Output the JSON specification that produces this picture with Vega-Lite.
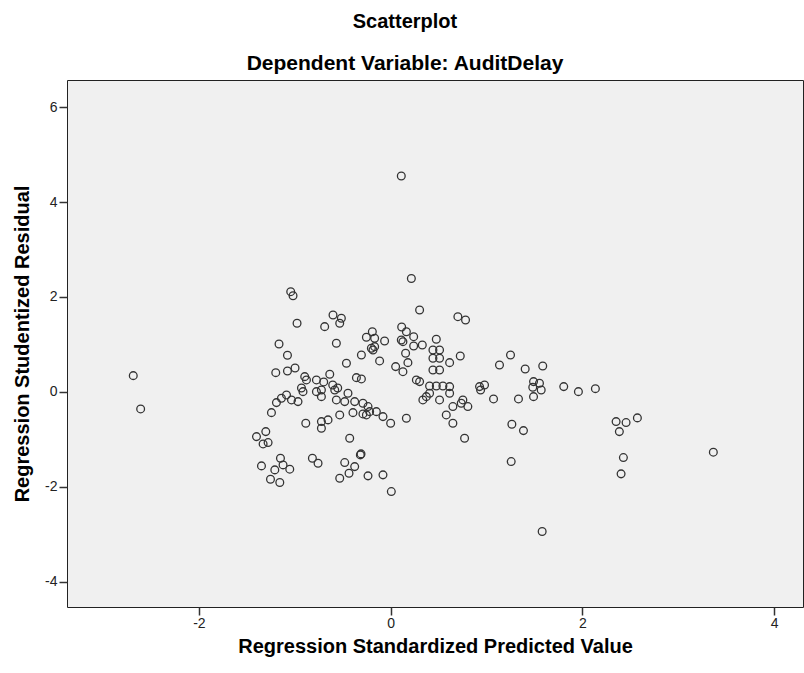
{
 "$schema": "https://vega.github.io/schema/vega-lite/v6.json",
 "width": 736,
 "height": 527,
 "autosize": "none",
 "padding": {"left": 67, "top": 80, "right": 1, "bottom": 66},
 "background": "white",
 "title": {"text": "Scatterplot", "subtitle": "Dependent Variable: AuditDelay", "font": "Liberation Sans", "fontSize": 20, "fontWeight": "bold", "subtitleFont": "Liberation Sans", "subtitleFontSize": 21, "subtitleFontWeight": "bold", "color": "#000", "subtitleColor": "#000", "anchor": "middle", "frame": "group", "dx": -30, "offset": 6, "subtitlePadding": 21},
 "data": {"values": [
  {"pred": -2.684, "resid": 0.343}, {"pred": -2.607, "resid": -0.358}, {"pred": -1.042, "resid": 2.112}, {"pred": -1.018, "resid": 2.027},
  {"pred": -0.976, "resid": 1.446}, {"pred": -1.164, "resid": 1.011}, {"pred": -1.076, "resid": 0.773}, {"pred": -1.198, "resid": 0.406},
  {"pred": -1.076, "resid": 0.442}, {"pred": -0.997, "resid": 0.505}, {"pred": -0.896, "resid": 0.322}, {"pred": -0.878, "resid": 0.253},
  {"pred": -0.774, "resid": 0.253}, {"pred": -0.930, "resid": 0.084}, {"pred": -1.086, "resid": -0.063}, {"pred": -1.139, "resid": -0.133},
  {"pred": -1.191, "resid": -0.225}, {"pred": -1.243, "resid": -0.436}, {"pred": -1.034, "resid": -0.168}, {"pred": -0.966, "resid": -0.204},
  {"pred": -0.914, "resid": 0.006}, {"pred": -0.774, "resid": 0.006}, {"pred": -0.885, "resid": -0.659}, {"pred": -1.399, "resid": -0.941},
  {"pred": -1.302, "resid": -0.836}, {"pred": -1.330, "resid": -1.095}, {"pred": -1.278, "resid": -1.067}, {"pred": -1.347, "resid": -1.558},
  {"pred": -1.149, "resid": -1.396}, {"pred": -1.208, "resid": -1.642}, {"pred": -1.122, "resid": -1.537}, {"pred": -1.052, "resid": -1.627},
  {"pred": -1.253, "resid": -1.838}, {"pred": -1.156, "resid": -1.909}, {"pred": -0.816, "resid": -1.396}, {"pred": -0.757, "resid": -1.501},
  {"pred": -0.601, "resid": 1.621}, {"pred": -0.514, "resid": 1.552}, {"pred": -0.531, "resid": 1.446}, {"pred": -0.688, "resid": 1.375},
  {"pred": -0.566, "resid": 1.025}, {"pred": -0.253, "resid": 1.152}, {"pred": -0.191, "resid": 1.269}, {"pred": -0.167, "resid": 1.131},
  {"pred": -0.063, "resid": 1.074}, {"pred": -0.201, "resid": 0.920}, {"pred": -0.184, "resid": 0.884}, {"pred": -0.167, "resid": 0.954},
  {"pred": -0.305, "resid": 0.779}, {"pred": -0.115, "resid": 0.653}, {"pred": -0.461, "resid": 0.604}, {"pred": -0.635, "resid": 0.373},
  {"pred": -0.357, "resid": 0.301}, {"pred": -0.305, "resid": 0.274}, {"pred": 0.052, "resid": 0.533}, {"pred": 0.115, "resid": 1.368},
  {"pred": -0.698, "resid": 0.211}, {"pred": -0.604, "resid": 0.147}, {"pred": -0.552, "resid": 0.084}, {"pred": -0.722, "resid": 0.042},
  {"pred": -0.583, "resid": 0.042}, {"pred": -0.445, "resid": -0.027}, {"pred": -0.566, "resid": -0.168}, {"pred": -0.479, "resid": -0.204},
  {"pred": -0.375, "resid": -0.204}, {"pred": -0.289, "resid": -0.238}, {"pred": -0.236, "resid": -0.309}, {"pred": -0.531, "resid": -0.484},
  {"pred": -0.393, "resid": -0.436}, {"pred": -0.289, "resid": -0.463}, {"pred": -0.253, "resid": -0.484}, {"pred": -0.219, "resid": -0.415},
  {"pred": -0.149, "resid": -0.415}, {"pred": -0.080, "resid": -0.520}, {"pred": 0.000, "resid": -0.659}, {"pred": -0.653, "resid": -0.589},
  {"pred": -0.722, "resid": -0.625}, {"pred": -0.722, "resid": -0.764}, {"pred": -0.722, "resid": -0.099}, {"pred": -0.427, "resid": -0.975},
  {"pred": -0.316, "resid": -1.326}, {"pred": -0.309, "resid": -1.305}, {"pred": -0.479, "resid": -1.488}, {"pred": -0.375, "resid": -1.573},
  {"pred": -0.434, "resid": -1.712}, {"pred": -0.531, "resid": -1.817}, {"pred": -0.236, "resid": -1.768}, {"pred": -0.080, "resid": -1.747},
  {"pred": 0.007, "resid": -2.099}, {"pred": 0.216, "resid": 2.39}, {"pred": 0.302, "resid": 1.726}, {"pred": 0.701, "resid": 1.585},
  {"pred": 0.781, "resid": 1.516}, {"pred": 0.164, "resid": 1.269}, {"pred": 0.111, "resid": 1.095}, {"pred": 0.128, "resid": 1.059},
  {"pred": 0.240, "resid": 1.164}, {"pred": 0.240, "resid": 0.968}, {"pred": 0.330, "resid": 0.989}, {"pred": 0.476, "resid": 1.109},
  {"pred": 0.441, "resid": 0.884}, {"pred": 0.510, "resid": 0.884}, {"pred": 0.156, "resid": 0.815}, {"pred": 0.441, "resid": 0.709},
  {"pred": 0.510, "resid": 0.709}, {"pred": 0.615, "resid": 0.617}, {"pred": 0.726, "resid": 0.758}, {"pred": 0.180, "resid": 0.617},
  {"pred": 0.441, "resid": 0.463}, {"pred": 0.510, "resid": 0.463}, {"pred": 0.128, "resid": 0.427}, {"pred": 0.268, "resid": 0.253},
  {"pred": 0.302, "resid": 0.217}, {"pred": 0.406, "resid": 0.126}, {"pred": 0.476, "resid": 0.126}, {"pred": 0.545, "resid": 0.126},
  {"pred": 0.615, "resid": 0.112}, {"pred": 0.927, "resid": 0.112}, {"pred": 0.336, "resid": -0.168}, {"pred": 0.372, "resid": -0.099},
  {"pred": 0.406, "resid": -0.027}, {"pred": 0.510, "resid": -0.168}, {"pred": 0.615, "resid": -0.027}, {"pred": 0.649, "resid": -0.309},
  {"pred": 0.580, "resid": -0.484}, {"pred": 0.649, "resid": -0.659}, {"pred": 0.753, "resid": -0.168}, {"pred": 0.805, "resid": -0.309},
  {"pred": 0.736, "resid": -0.238}, {"pred": 0.771, "resid": -0.975}, {"pred": 0.164, "resid": -0.554}, {"pred": 0.938, "resid": 0.042},
  {"pred": 1.250, "resid": 0.779}, {"pred": 1.135, "resid": 0.568}, {"pred": 1.403, "resid": 0.484}, {"pred": 1.586, "resid": 0.547},
  {"pred": 0.979, "resid": 0.147}, {"pred": 1.073, "resid": -0.147}, {"pred": 1.333, "resid": -0.147}, {"pred": 1.490, "resid": 0.217},
  {"pred": 1.552, "resid": 0.183}, {"pred": 1.482, "resid": 0.099}, {"pred": 1.570, "resid": 0.042}, {"pred": 1.490, "resid": -0.099},
  {"pred": 1.805, "resid": 0.112}, {"pred": 1.958, "resid": 0.006}, {"pred": 2.135, "resid": 0.069}, {"pred": 1.264, "resid": -0.680},
  {"pred": 1.385, "resid": -0.815}, {"pred": 1.257, "resid": -1.467}, {"pred": 1.580, "resid": -2.941}, {"pred": 2.351, "resid": -0.625},
  {"pred": 2.455, "resid": -0.646}, {"pred": 2.385, "resid": -0.836}, {"pred": 2.573, "resid": -0.547}, {"pred": 2.427, "resid": -1.383},
  {"pred": 2.403, "resid": -1.726}, {"pred": 3.365, "resid": -1.269}, {"pred": 0.111, "resid": 4.547}
 ]},
 "mark": {"type": "point", "shape": "circle", "filled": false, "stroke": "#333", "strokeWidth": 1.3, "size": 60, "opacity": 1},
 "encoding": {
  "x": {"field": "pred", "type": "quantitative", "scale": {"domain": [-3.375, 4.3], "nice": false, "zero": false}, "axis": {"values": [-2, 0, 2, 4], "title": "Regression Standardized Predicted Value", "labelExpr": "datum.value < 0 ? '-' + abs(datum.value) : '' + datum.value", "titlePadding": 6, "labelPadding": 1}},
  "y": {"field": "resid", "type": "quantitative", "scale": {"domain": [-4.53, 6.57], "nice": false, "zero": false}, "axis": {"values": [-4, -2, 0, 2, 4, 6], "title": "Regression Studentized Residual", "labelExpr": "datum.value < 0 ? '-' + abs(datum.value) : '' + datum.value", "titlePadding": 12, "labelPadding": 2}}
 },
 "config": {
  "view": {"fill": "#f0f0f0", "stroke": "#222", "strokeWidth": 1},
  "axis": {"domain": false, "grid": false, "tickColor": "#333", "tickSize": 8, "tickWidth": 1.5, "labelFont": "Liberation Sans", "labelFontSize": 14, "labelColor": "#222", "titleFont": "Liberation Sans", "titleFontSize": 20, "titleFontWeight": "bold", "titleColor": "#000"}
 }
}
